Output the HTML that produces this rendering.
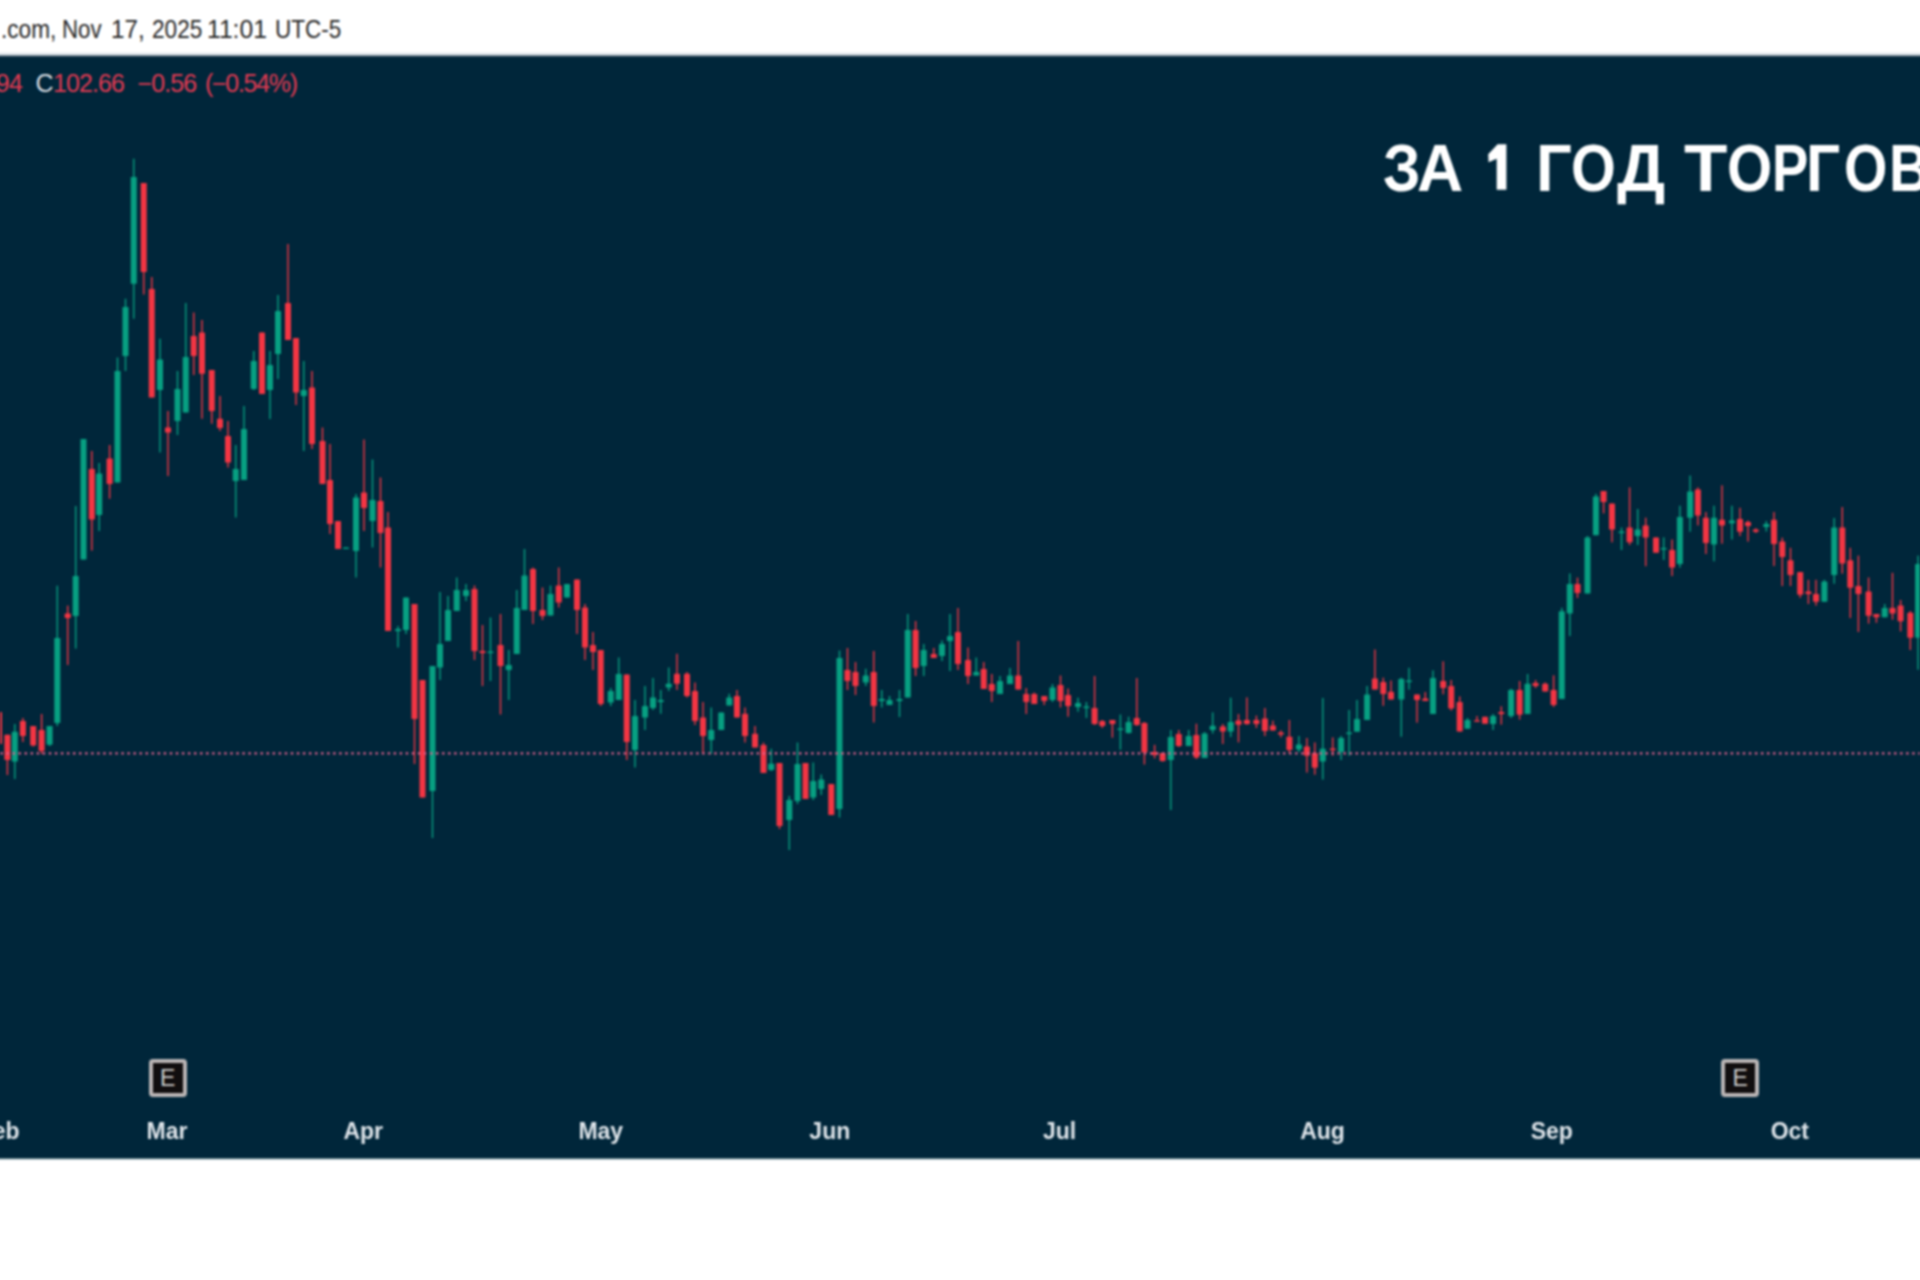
<!DOCTYPE html>
<html><head><meta charset="utf-8"><style>
html,body{margin:0;padding:0;width:1920px;height:1280px;overflow:hidden;background:#fff;}
body{position:relative;font-family:"Liberation Sans",sans-serif;}
#wrap{position:absolute;left:-20px;top:-20px;width:1960px;height:1320px;background:#fff;filter:blur(0.8px);}
#inner{position:absolute;left:20px;top:20px;width:1920px;height:1280px;}
.hd{position:absolute;top:17.3px;font-size:25px;line-height:25px;color:#262626;white-space:nowrap;transform-origin:0 0}
#chart{position:absolute;left:-20px;top:57px;width:1960px;height:1101px;background:#00263a;}
#ln1{position:absolute;left:-20px;top:52px;width:1960px;height:2px;background:#eef2f4}
#ln2{position:absolute;left:-20px;top:54px;width:1960px;height:1px;background:#d4dade}
#ln3{position:absolute;left:-20px;top:55px;width:1960px;height:1px;background:#8797a4}
#ln3b{position:absolute;left:-20px;top:56px;width:1960px;height:1px;background:#2c4658}
#ln4{position:absolute;left:-20px;top:1158px;width:1960px;height:1px;background:#5a7a82}
#ln5{position:absolute;left:-20px;top:1159px;width:1960px;height:1px;background:#c8d4da}
svg{position:absolute;left:0;top:0}
.oh{position:absolute;top:68px;font-size:25px;color:#e23a52;white-space:nowrap;line-height:30px}
.tt{position:absolute;top:133.7px;font-size:67px;font-weight:bold;color:#fff;white-space:nowrap;line-height:67px;transform-origin:0 0}
.ml{position:absolute;top:1117.6px;font-size:23px;color:#dfe5ea;white-space:nowrap;font-weight:bold}
.em{position:absolute;top:1059px;width:30px;height:30px;border:4px solid #bab5b5;border-radius:4px;background:#110e0f;}
.em span{position:absolute;left:0;top:2px;width:30px;text-align:center;font-size:23px;color:#cfcfcf;line-height:26px}
</style></head><body>
<div id="wrap"><div id="inner">
<div class="hd" style="left:0.99px;transform:scaleX(0.905)">.com,</div><div class="hd" style="left:62.01px;transform:scaleX(0.893)">Nov</div><div class="hd" style="left:110.66px;transform:scaleX(0.968)">17,</div><div class="hd" style="left:152.00px;transform:scaleX(0.904)">2025</div><div class="hd" style="left:207.23px;transform:scaleX(0.986)">11:01</div><div class="hd" style="left:274.90px;transform:scaleX(0.899)">UTC-5</div>
<div id="ln1"></div><div id="chart"></div><div id="ln2"></div><div id="ln3"></div><div id="ln3b"></div><div id="ln4"></div><div id="ln5"></div>
<svg width="1920" height="1280" viewBox="0 0 1920 1280">

<polygon fill="#fff" points="1497.6,144.3 1506.4,144.3 1506.4,189.8 1496.7,189.8 1496.7,158.8 1488.6,162.3 1488.2,154.2"/>
<g fill="#07a082"><rect x="14.10" y="724.00" width="1.40" height="55.00"/><rect x="11.80" y="731.80" width="6.00" height="29.70" rx="0.6"/><rect x="48.90" y="726.00" width="1.40" height="20.00"/><rect x="46.60" y="726.00" width="6.00" height="18.70" rx="0.6"/><rect x="56.60" y="585.70" width="1.40" height="140.30"/><rect x="54.30" y="638.00" width="6.00" height="85.00" rx="0.6"/><rect x="75.00" y="506.00" width="1.40" height="142.60"/><rect x="72.70" y="576.00" width="6.00" height="40.00" rx="0.6"/><rect x="82.80" y="439.00" width="1.40" height="120.50"/><rect x="80.50" y="439.00" width="6.00" height="120.50" rx="0.6"/><rect x="98.50" y="463.00" width="1.40" height="68.00"/><rect x="96.20" y="473.40" width="6.00" height="41.60" rx="0.6"/><rect x="116.80" y="357.50" width="1.40" height="125.00"/><rect x="114.50" y="371.00" width="6.00" height="111.50" rx="0.6"/><rect x="124.80" y="298.75" width="1.40" height="72.25"/><rect x="122.50" y="307.00" width="6.00" height="49.00" rx="0.6"/><rect x="133.05" y="158.75" width="1.40" height="160.00"/><rect x="130.75" y="177.00" width="6.00" height="106.75" rx="0.6"/><rect x="159.30" y="338.75" width="1.40" height="113.75"/><rect x="157.00" y="359.50" width="6.00" height="30.50" rx="0.6"/><rect x="176.80" y="371.00" width="1.40" height="64.00"/><rect x="174.50" y="389.00" width="6.00" height="32.00" rx="0.6"/><rect x="185.05" y="303.00" width="1.40" height="109.50"/><rect x="182.75" y="357.00" width="6.00" height="55.50" rx="0.6"/><rect x="235.05" y="445.00" width="1.40" height="72.50"/><rect x="232.75" y="469.00" width="6.00" height="12.00" rx="0.6"/><rect x="243.30" y="406.00" width="1.40" height="74.00"/><rect x="241.00" y="429.00" width="6.00" height="51.00" rx="0.6"/><rect x="253.05" y="351.00" width="1.40" height="39.00"/><rect x="250.75" y="361.00" width="6.00" height="28.00" rx="0.6"/><rect x="269.30" y="351.00" width="1.40" height="68.00"/><rect x="267.00" y="365.00" width="6.00" height="25.00" rx="0.6"/><rect x="277.30" y="295.00" width="1.40" height="84.00"/><rect x="275.00" y="311.00" width="6.00" height="43.00" rx="0.6"/><rect x="303.05" y="361.00" width="1.40" height="90.00"/><rect x="300.75" y="390.00" width="6.00" height="6.00" rx="0.6"/><rect x="345.30" y="547.50" width="1.40" height="1.50"/><rect x="343.00" y="547.45" width="6.00" height="1.60" rx="0.6"/><rect x="355.30" y="494.00" width="1.40" height="83.50"/><rect x="353.00" y="497.50" width="6.00" height="53.50" rx="0.6"/><rect x="371.80" y="459.50" width="1.40" height="88.00"/><rect x="369.50" y="500.00" width="6.00" height="21.00" rx="0.6"/><rect x="397.30" y="626.00" width="1.40" height="21.50"/><rect x="395.00" y="629.00" width="6.00" height="2.00" rx="0.6"/><rect x="405.30" y="597.50" width="1.40" height="36.50"/><rect x="403.00" y="597.50" width="6.00" height="32.50" rx="0.6"/><rect x="431.80" y="666.00" width="1.40" height="172.00"/><rect x="429.50" y="666.00" width="6.00" height="125.00" rx="0.6"/><rect x="439.30" y="592.00" width="1.40" height="88.00"/><rect x="437.00" y="644.00" width="6.00" height="23.50" rx="0.6"/><rect x="447.30" y="596.00" width="1.40" height="45.00"/><rect x="445.00" y="610.00" width="6.00" height="31.00" rx="0.6"/><rect x="456.05" y="577.50" width="1.40" height="33.50"/><rect x="453.75" y="590.00" width="6.00" height="21.00" rx="0.6"/><rect x="465.30" y="584.00" width="1.40" height="17.00"/><rect x="463.00" y="590.00" width="6.00" height="6.00" rx="0.6"/><rect x="489.80" y="617.50" width="1.40" height="63.50"/><rect x="487.50" y="651.45" width="6.00" height="1.60" rx="0.6"/><rect x="508.05" y="650.00" width="1.40" height="50.00"/><rect x="505.75" y="665.00" width="6.00" height="5.00" rx="0.6"/><rect x="516.05" y="590.00" width="1.40" height="64.00"/><rect x="513.75" y="608.00" width="6.00" height="46.00" rx="0.6"/><rect x="523.80" y="549.00" width="1.40" height="61.00"/><rect x="521.50" y="575.50" width="6.00" height="34.50" rx="0.6"/><rect x="549.80" y="585.50" width="1.40" height="30.00"/><rect x="547.50" y="594.00" width="6.00" height="21.50" rx="0.6"/><rect x="566.30" y="584.00" width="1.40" height="13.50"/><rect x="564.00" y="584.00" width="6.00" height="13.50" rx="0.6"/><rect x="610.05" y="688.00" width="1.40" height="18.00"/><rect x="607.75" y="691.00" width="6.00" height="11.50" rx="0.6"/><rect x="618.05" y="657.50" width="1.40" height="42.50"/><rect x="615.75" y="674.00" width="6.00" height="26.00" rx="0.6"/><rect x="634.30" y="700.00" width="1.40" height="67.50"/><rect x="632.00" y="716.00" width="6.00" height="34.00" rx="0.6"/><rect x="644.30" y="686.00" width="1.40" height="44.00"/><rect x="642.00" y="706.00" width="6.00" height="11.50" rx="0.6"/><rect x="652.30" y="678.00" width="1.40" height="32.00"/><rect x="650.00" y="697.50" width="6.00" height="10.50" rx="0.6"/><rect x="660.05" y="690.00" width="1.40" height="23.75"/><rect x="657.75" y="700.00" width="6.00" height="2.00" rx="0.6"/><rect x="668.05" y="667.50" width="1.40" height="23.50"/><rect x="665.75" y="683.75" width="6.00" height="3.75" rx="0.6"/><rect x="710.55" y="707.50" width="1.40" height="46.25"/><rect x="708.25" y="730.00" width="6.00" height="10.00" rx="0.6"/><rect x="720.55" y="712.50" width="1.40" height="17.50"/><rect x="718.25" y="712.50" width="6.00" height="17.50" rx="0.6"/><rect x="728.55" y="693.75" width="1.40" height="11.75"/><rect x="726.25" y="697.50" width="6.00" height="8.00" rx="0.6"/><rect x="770.55" y="748.75" width="1.40" height="22.25"/><rect x="768.25" y="763.75" width="6.00" height="6.25" rx="0.6"/><rect x="788.55" y="796.00" width="1.40" height="54.00"/><rect x="786.25" y="800.00" width="6.00" height="20.00" rx="0.6"/><rect x="796.80" y="742.50" width="1.40" height="61.50"/><rect x="794.50" y="764.00" width="6.00" height="37.00" rx="0.6"/><rect x="812.55" y="762.50" width="1.40" height="37.50"/><rect x="810.25" y="781.00" width="6.00" height="16.50" rx="0.6"/><rect x="820.55" y="774.50" width="1.40" height="20.50"/><rect x="818.25" y="779.50" width="6.00" height="9.50" rx="0.6"/><rect x="838.80" y="650.50" width="1.40" height="167.00"/><rect x="836.50" y="658.00" width="6.00" height="151.00" rx="0.6"/><rect x="865.05" y="668.75" width="1.40" height="17.25"/><rect x="862.75" y="675.50" width="6.00" height="7.00" rx="0.6"/><rect x="881.05" y="690.00" width="1.40" height="17.50"/><rect x="878.75" y="699.00" width="6.00" height="2.00" rx="0.6"/><rect x="888.80" y="696.00" width="1.40" height="9.00"/><rect x="886.50" y="700.00" width="6.00" height="5.00" rx="0.6"/><rect x="898.80" y="690.00" width="1.40" height="27.00"/><rect x="896.50" y="699.00" width="6.00" height="2.00" rx="0.6"/><rect x="907.05" y="614.00" width="1.40" height="83.50"/><rect x="904.75" y="630.00" width="6.00" height="67.50" rx="0.6"/><rect x="923.05" y="644.00" width="1.40" height="32.00"/><rect x="920.75" y="650.00" width="6.00" height="16.00" rx="0.6"/><rect x="941.30" y="640.50" width="1.40" height="20.50"/><rect x="939.00" y="644.00" width="6.00" height="12.00" rx="0.6"/><rect x="949.30" y="614.00" width="1.40" height="57.00"/><rect x="947.00" y="636.00" width="6.00" height="5.00" rx="0.6"/><rect x="975.55" y="657.50" width="1.40" height="18.00"/><rect x="973.25" y="672.00" width="6.00" height="3.50" rx="0.6"/><rect x="999.30" y="676.00" width="1.40" height="18.00"/><rect x="997.00" y="681.00" width="6.00" height="13.00" rx="0.6"/><rect x="1009.30" y="668.00" width="1.40" height="16.00"/><rect x="1007.00" y="675.50" width="6.00" height="8.50" rx="0.6"/><rect x="1051.80" y="684.00" width="1.40" height="18.00"/><rect x="1049.50" y="687.50" width="6.00" height="12.50" rx="0.6"/><rect x="1077.30" y="697.70" width="1.40" height="14.00"/><rect x="1075.00" y="703.00" width="6.00" height="4.00" rx="0.6"/><rect x="1085.70" y="702.00" width="1.40" height="16.00"/><rect x="1083.40" y="706.45" width="6.00" height="1.60" rx="0.6"/><rect x="1119.70" y="714.50" width="1.40" height="35.20"/><rect x="1117.40" y="728.45" width="6.00" height="1.60" rx="0.6"/><rect x="1127.90" y="716.70" width="1.40" height="16.80"/><rect x="1125.60" y="722.00" width="6.00" height="11.00" rx="0.6"/><rect x="1170.10" y="730.00" width="1.40" height="80.00"/><rect x="1167.80" y="737.00" width="6.00" height="23.00" rx="0.6"/><rect x="1188.00" y="730.00" width="1.40" height="16.00"/><rect x="1185.70" y="736.00" width="6.00" height="10.00" rx="0.6"/><rect x="1203.90" y="732.00" width="1.40" height="26.00"/><rect x="1201.60" y="733.50" width="6.00" height="24.50" rx="0.6"/><rect x="1212.00" y="712.40" width="1.40" height="21.10"/><rect x="1209.70" y="725.80" width="6.00" height="4.20" rx="0.6"/><rect x="1230.00" y="697.70" width="1.40" height="39.30"/><rect x="1227.70" y="722.00" width="6.00" height="9.40" rx="0.6"/><rect x="1298.20" y="736.00" width="1.40" height="16.00"/><rect x="1295.90" y="744.50" width="6.00" height="4.90" rx="0.6"/><rect x="1322.10" y="698.00" width="1.40" height="81.60"/><rect x="1319.80" y="748.70" width="6.00" height="12.70" rx="0.6"/><rect x="1340.40" y="736.00" width="1.40" height="24.00"/><rect x="1338.10" y="738.00" width="6.00" height="14.00" rx="0.6"/><rect x="1348.40" y="710.00" width="1.40" height="45.70"/><rect x="1346.10" y="732.45" width="6.00" height="1.60" rx="0.6"/><rect x="1356.30" y="700.00" width="1.40" height="31.80"/><rect x="1354.00" y="719.00" width="6.00" height="12.80" rx="0.6"/><rect x="1366.40" y="686.00" width="1.40" height="34.00"/><rect x="1364.10" y="694.50" width="6.00" height="25.50" rx="0.6"/><rect x="1400.60" y="677.70" width="1.40" height="59.00"/><rect x="1398.30" y="679.00" width="6.00" height="20.50" rx="0.6"/><rect x="1408.30" y="667.80" width="1.40" height="21.80"/><rect x="1406.00" y="680.45" width="6.00" height="1.60" rx="0.6"/><rect x="1432.30" y="670.40" width="1.40" height="43.60"/><rect x="1430.00" y="678.00" width="6.00" height="36.00" rx="0.6"/><rect x="1466.80" y="718.00" width="1.40" height="10.80"/><rect x="1464.50" y="720.00" width="6.00" height="8.80" rx="0.6"/><rect x="1492.40" y="714.00" width="1.40" height="16.00"/><rect x="1490.10" y="716.00" width="6.00" height="8.00" rx="0.6"/><rect x="1510.40" y="688.70" width="1.40" height="29.30"/><rect x="1508.10" y="690.00" width="6.00" height="26.00" rx="0.6"/><rect x="1526.90" y="674.00" width="1.40" height="40.00"/><rect x="1524.60" y="683.80" width="6.00" height="30.20" rx="0.6"/><rect x="1561.10" y="607.80" width="1.40" height="91.20"/><rect x="1558.80" y="611.30" width="6.00" height="87.70" rx="0.6"/><rect x="1569.10" y="573.40" width="1.40" height="62.60"/><rect x="1566.80" y="584.00" width="6.00" height="29.40" rx="0.6"/><rect x="1586.80" y="536.00" width="1.40" height="57.60"/><rect x="1584.50" y="537.40" width="6.00" height="56.20" rx="0.6"/><rect x="1595.20" y="493.80" width="1.40" height="41.40"/><rect x="1592.90" y="496.60" width="6.00" height="38.60" rx="0.6"/><rect x="1620.80" y="527.50" width="1.40" height="22.50"/><rect x="1618.50" y="531.45" width="6.00" height="1.60" rx="0.6"/><rect x="1637.00" y="509.00" width="1.40" height="36.00"/><rect x="1634.70" y="529.60" width="6.00" height="6.40" rx="0.6"/><rect x="1663.00" y="537.40" width="1.40" height="22.60"/><rect x="1660.70" y="547.95" width="6.00" height="1.60" rx="0.6"/><rect x="1679.20" y="505.70" width="1.40" height="61.90"/><rect x="1676.90" y="517.00" width="6.00" height="47.00" rx="0.6"/><rect x="1689.40" y="475.50" width="1.40" height="56.20"/><rect x="1687.10" y="491.60" width="6.00" height="26.10" rx="0.6"/><rect x="1713.30" y="505.70" width="1.40" height="55.60"/><rect x="1711.00" y="517.70" width="6.00" height="26.70" rx="0.6"/><rect x="1731.20" y="505.70" width="1.40" height="33.80"/><rect x="1728.90" y="520.50" width="6.00" height="2.80" rx="0.6"/><rect x="1765.60" y="521.00" width="1.40" height="10.50"/><rect x="1763.30" y="524.00" width="6.00" height="3.00" rx="0.6"/><rect x="1823.70" y="579.80" width="1.40" height="21.90"/><rect x="1821.40" y="581.40" width="6.00" height="20.30" rx="0.6"/><rect x="1833.50" y="518.00" width="1.40" height="65.75"/><rect x="1831.20" y="527.50" width="6.00" height="47.50" rx="0.6"/><rect x="1884.00" y="604.00" width="1.40" height="13.30"/><rect x="1881.70" y="608.00" width="6.00" height="9.30" rx="0.6"/><rect x="1917.40" y="555.60" width="1.40" height="114.10"/><rect x="1915.10" y="564.00" width="6.00" height="73.70" rx="0.6"/></g><g fill="#f33543"><rect x="-1.70" y="708.75" width="1.40" height="35.15"/><rect x="-4.00" y="711.90" width="6.00" height="32.00" rx="0.6"/><rect x="6.70" y="734.70" width="1.40" height="40.30"/><rect x="4.40" y="734.70" width="6.00" height="25.30" rx="0.6"/><rect x="22.20" y="718.00" width="1.40" height="24.00"/><rect x="19.90" y="721.00" width="6.00" height="15.00" rx="0.6"/><rect x="32.50" y="726.00" width="1.40" height="20.50"/><rect x="30.20" y="726.00" width="6.00" height="19.50" rx="0.6"/><rect x="40.90" y="714.00" width="1.40" height="40.00"/><rect x="38.60" y="730.00" width="6.00" height="21.00" rx="0.6"/><rect x="67.00" y="605.60" width="1.40" height="59.40"/><rect x="64.70" y="613.60" width="6.00" height="4.40" rx="0.6"/><rect x="91.10" y="451.00" width="1.40" height="99.60"/><rect x="88.80" y="469.00" width="6.00" height="50.50" rx="0.6"/><rect x="108.90" y="445.00" width="1.40" height="53.70"/><rect x="106.60" y="458.60" width="6.00" height="25.40" rx="0.6"/><rect x="143.05" y="183.00" width="1.40" height="111.50"/><rect x="140.75" y="183.00" width="6.00" height="89.00" rx="0.6"/><rect x="151.05" y="277.00" width="1.40" height="120.50"/><rect x="148.75" y="289.00" width="6.00" height="108.50" rx="0.6"/><rect x="167.30" y="411.00" width="1.40" height="65.00"/><rect x="165.00" y="427.50" width="6.00" height="5.00" rx="0.6"/><rect x="193.05" y="312.50" width="1.40" height="62.50"/><rect x="190.75" y="336.00" width="6.00" height="20.00" rx="0.6"/><rect x="201.30" y="320.00" width="1.40" height="98.75"/><rect x="199.00" y="332.50" width="6.00" height="41.25" rx="0.6"/><rect x="211.05" y="370.00" width="1.40" height="53.75"/><rect x="208.75" y="370.00" width="6.00" height="41.00" rx="0.6"/><rect x="219.30" y="396.00" width="1.40" height="35.00"/><rect x="217.00" y="418.75" width="6.00" height="9.25" rx="0.6"/><rect x="227.30" y="421.00" width="1.40" height="46.50"/><rect x="225.00" y="436.00" width="6.00" height="26.50" rx="0.6"/><rect x="261.30" y="332.50" width="1.40" height="61.50"/><rect x="259.00" y="332.50" width="6.00" height="61.50" rx="0.6"/><rect x="287.30" y="244.00" width="1.40" height="96.00"/><rect x="285.00" y="303.00" width="6.00" height="37.00" rx="0.6"/><rect x="295.30" y="338.00" width="1.40" height="67.00"/><rect x="293.00" y="338.00" width="6.00" height="54.50" rx="0.6"/><rect x="311.30" y="371.00" width="1.40" height="78.00"/><rect x="309.00" y="387.50" width="6.00" height="56.50" rx="0.6"/><rect x="321.80" y="427.50" width="1.40" height="56.50"/><rect x="319.50" y="441.00" width="6.00" height="43.00" rx="0.6"/><rect x="329.30" y="444.00" width="1.40" height="90.00"/><rect x="327.00" y="480.00" width="6.00" height="44.00" rx="0.6"/><rect x="337.30" y="521.00" width="1.40" height="28.00"/><rect x="335.00" y="521.00" width="6.00" height="28.00" rx="0.6"/><rect x="363.30" y="439.50" width="1.40" height="91.50"/><rect x="361.00" y="492.50" width="6.00" height="15.50" rx="0.6"/><rect x="379.80" y="477.50" width="1.40" height="90.00"/><rect x="377.50" y="501.00" width="6.00" height="32.00" rx="0.6"/><rect x="387.30" y="512.00" width="1.40" height="119.00"/><rect x="385.00" y="527.50" width="6.00" height="103.50" rx="0.6"/><rect x="413.80" y="604.00" width="1.40" height="160.00"/><rect x="411.50" y="604.00" width="6.00" height="115.00" rx="0.6"/><rect x="421.80" y="680.00" width="1.40" height="117.50"/><rect x="419.50" y="680.00" width="6.00" height="117.50" rx="0.6"/><rect x="473.80" y="585.50" width="1.40" height="74.50"/><rect x="471.50" y="589.00" width="6.00" height="62.00" rx="0.6"/><rect x="481.80" y="625.00" width="1.40" height="61.00"/><rect x="479.50" y="651.00" width="6.00" height="2.00" rx="0.6"/><rect x="499.80" y="614.00" width="1.40" height="100.50"/><rect x="497.50" y="645.00" width="6.00" height="21.00" rx="0.6"/><rect x="532.30" y="567.50" width="1.40" height="56.50"/><rect x="530.00" y="569.00" width="6.00" height="42.00" rx="0.6"/><rect x="541.80" y="587.50" width="1.40" height="32.50"/><rect x="539.50" y="610.00" width="6.00" height="6.00" rx="0.6"/><rect x="558.05" y="567.50" width="1.40" height="40.00"/><rect x="555.75" y="585.50" width="6.00" height="17.00" rx="0.6"/><rect x="576.30" y="579.50" width="1.40" height="54.50"/><rect x="574.00" y="579.50" width="6.00" height="30.50" rx="0.6"/><rect x="584.30" y="604.00" width="1.40" height="56.00"/><rect x="582.00" y="607.50" width="6.00" height="40.00" rx="0.6"/><rect x="592.30" y="632.00" width="1.40" height="38.00"/><rect x="590.00" y="645.00" width="6.00" height="7.00" rx="0.6"/><rect x="600.05" y="650.00" width="1.40" height="56.00"/><rect x="597.75" y="650.00" width="6.00" height="54.00" rx="0.6"/><rect x="626.05" y="674.50" width="1.40" height="85.50"/><rect x="623.75" y="674.50" width="6.00" height="67.50" rx="0.6"/><rect x="676.30" y="653.75" width="1.40" height="36.25"/><rect x="674.00" y="673.75" width="6.00" height="10.00" rx="0.6"/><rect x="686.30" y="672.00" width="1.40" height="25.50"/><rect x="684.00" y="673.75" width="6.00" height="22.25" rx="0.6"/><rect x="694.30" y="682.50" width="1.40" height="42.50"/><rect x="692.00" y="691.00" width="6.00" height="30.00" rx="0.6"/><rect x="702.30" y="702.00" width="1.40" height="51.75"/><rect x="700.00" y="717.50" width="6.00" height="18.50" rx="0.6"/><rect x="736.30" y="690.00" width="1.40" height="27.50"/><rect x="734.00" y="696.00" width="6.00" height="21.50" rx="0.6"/><rect x="744.30" y="707.50" width="1.40" height="35.00"/><rect x="742.00" y="713.75" width="6.00" height="22.25" rx="0.6"/><rect x="754.30" y="726.00" width="1.40" height="21.50"/><rect x="752.00" y="733.75" width="6.00" height="13.75" rx="0.6"/><rect x="762.80" y="742.50" width="1.40" height="30.50"/><rect x="760.50" y="745.00" width="6.00" height="28.00" rx="0.6"/><rect x="778.80" y="763.00" width="1.40" height="66.00"/><rect x="776.50" y="763.00" width="6.00" height="63.00" rx="0.6"/><rect x="804.80" y="763.00" width="1.40" height="36.00"/><rect x="802.50" y="763.00" width="6.00" height="36.00" rx="0.6"/><rect x="830.55" y="784.00" width="1.40" height="31.00"/><rect x="828.25" y="784.00" width="6.00" height="31.00" rx="0.6"/><rect x="846.80" y="648.00" width="1.40" height="42.00"/><rect x="844.50" y="670.00" width="6.00" height="11.00" rx="0.6"/><rect x="854.80" y="662.00" width="1.40" height="33.00"/><rect x="852.50" y="672.00" width="6.00" height="14.00" rx="0.6"/><rect x="873.05" y="651.00" width="1.40" height="71.50"/><rect x="870.75" y="672.00" width="6.00" height="34.00" rx="0.6"/><rect x="914.90" y="621.00" width="1.40" height="55.00"/><rect x="912.60" y="630.00" width="6.00" height="38.00" rx="0.6"/><rect x="933.05" y="648.00" width="1.40" height="10.00"/><rect x="930.75" y="654.00" width="6.00" height="4.00" rx="0.6"/><rect x="957.30" y="608.00" width="1.40" height="62.00"/><rect x="955.00" y="632.00" width="6.00" height="32.00" rx="0.6"/><rect x="967.30" y="647.50" width="1.40" height="36.50"/><rect x="965.00" y="660.00" width="6.00" height="16.00" rx="0.6"/><rect x="983.05" y="662.00" width="1.40" height="27.00"/><rect x="980.75" y="669.00" width="6.00" height="20.00" rx="0.6"/><rect x="991.05" y="674.00" width="1.40" height="28.00"/><rect x="988.75" y="684.00" width="6.00" height="7.00" rx="0.6"/><rect x="1017.55" y="641.00" width="1.40" height="48.50"/><rect x="1015.25" y="675.50" width="6.00" height="14.00" rx="0.6"/><rect x="1025.55" y="688.00" width="1.40" height="26.00"/><rect x="1023.25" y="694.00" width="6.00" height="8.00" rx="0.6"/><rect x="1033.55" y="692.50" width="1.40" height="11.50"/><rect x="1031.25" y="694.00" width="6.00" height="10.00" rx="0.6"/><rect x="1043.55" y="696.00" width="1.40" height="9.00"/><rect x="1041.25" y="696.00" width="6.00" height="5.00" rx="0.6"/><rect x="1059.80" y="675.50" width="1.40" height="32.00"/><rect x="1057.50" y="685.00" width="6.00" height="16.00" rx="0.6"/><rect x="1067.40" y="688.50" width="1.40" height="28.20"/><rect x="1065.10" y="695.00" width="6.00" height="11.00" rx="0.6"/><rect x="1093.90" y="676.00" width="1.40" height="49.00"/><rect x="1091.60" y="708.00" width="6.00" height="16.00" rx="0.6"/><rect x="1101.60" y="720.00" width="1.40" height="8.00"/><rect x="1099.30" y="721.00" width="6.00" height="5.00" rx="0.6"/><rect x="1111.70" y="720.00" width="1.40" height="17.70"/><rect x="1109.40" y="720.00" width="6.00" height="4.00" rx="0.6"/><rect x="1136.10" y="678.00" width="1.40" height="47.80"/><rect x="1133.80" y="718.00" width="6.00" height="7.00" rx="0.6"/><rect x="1143.70" y="722.00" width="1.40" height="42.50"/><rect x="1141.40" y="723.00" width="6.00" height="29.50" rx="0.6"/><rect x="1153.90" y="744.80" width="1.40" height="13.60"/><rect x="1151.60" y="752.00" width="6.00" height="3.00" rx="0.6"/><rect x="1161.90" y="753.00" width="1.40" height="8.70"/><rect x="1159.60" y="753.00" width="6.00" height="8.00" rx="0.6"/><rect x="1178.10" y="730.00" width="1.40" height="17.00"/><rect x="1175.80" y="734.00" width="6.00" height="12.00" rx="0.6"/><rect x="1195.70" y="723.70" width="1.40" height="35.30"/><rect x="1193.40" y="735.00" width="6.00" height="22.40" rx="0.6"/><rect x="1222.10" y="724.00" width="1.40" height="20.00"/><rect x="1219.80" y="726.50" width="6.00" height="4.90" rx="0.6"/><rect x="1237.80" y="714.00" width="1.40" height="28.40"/><rect x="1235.50" y="720.60" width="6.00" height="4.20" rx="0.6"/><rect x="1246.20" y="697.40" width="1.40" height="27.40"/><rect x="1243.90" y="720.00" width="6.00" height="4.00" rx="0.6"/><rect x="1255.70" y="715.60" width="1.40" height="12.40"/><rect x="1253.40" y="720.00" width="6.00" height="4.00" rx="0.6"/><rect x="1264.20" y="708.00" width="1.40" height="28.00"/><rect x="1261.90" y="718.50" width="6.00" height="12.50" rx="0.6"/><rect x="1272.20" y="720.60" width="1.40" height="9.80"/><rect x="1269.90" y="725.50" width="6.00" height="4.90" rx="0.6"/><rect x="1280.20" y="730.40" width="1.40" height="7.00"/><rect x="1277.90" y="732.50" width="6.00" height="2.10" rx="0.6"/><rect x="1288.70" y="720.00" width="1.40" height="33.60"/><rect x="1286.40" y="736.70" width="6.00" height="13.30" rx="0.6"/><rect x="1306.20" y="738.00" width="1.40" height="34.60"/><rect x="1303.90" y="746.60" width="6.00" height="9.10" rx="0.6"/><rect x="1314.10" y="742.40" width="1.40" height="32.30"/><rect x="1311.80" y="753.00" width="6.00" height="14.70" rx="0.6"/><rect x="1332.00" y="737.40" width="1.40" height="18.30"/><rect x="1329.70" y="748.55" width="6.00" height="1.60" rx="0.6"/><rect x="1374.20" y="649.50" width="1.40" height="40.10"/><rect x="1371.90" y="678.40" width="6.00" height="11.20" rx="0.6"/><rect x="1382.60" y="677.70" width="1.40" height="28.10"/><rect x="1380.30" y="682.00" width="6.00" height="12.00" rx="0.6"/><rect x="1390.30" y="680.50" width="1.40" height="19.00"/><rect x="1388.00" y="691.70" width="6.00" height="7.80" rx="0.6"/><rect x="1416.30" y="694.50" width="1.40" height="28.20"/><rect x="1414.00" y="694.50" width="6.00" height="5.50" rx="0.6"/><rect x="1424.60" y="692.00" width="1.40" height="9.00"/><rect x="1422.30" y="698.50" width="6.00" height="2.50" rx="0.6"/><rect x="1442.50" y="661.30" width="1.40" height="33.00"/><rect x="1440.20" y="681.00" width="6.00" height="7.00" rx="0.6"/><rect x="1450.50" y="680.00" width="1.40" height="30.50"/><rect x="1448.20" y="686.00" width="6.00" height="22.40" rx="0.6"/><rect x="1459.00" y="696.40" width="1.40" height="35.20"/><rect x="1456.70" y="702.00" width="6.00" height="29.60" rx="0.6"/><rect x="1476.30" y="716.00" width="1.40" height="5.70"/><rect x="1474.00" y="720.20" width="6.00" height="1.60" rx="0.6"/><rect x="1484.30" y="716.80" width="1.40" height="7.00"/><rect x="1482.00" y="716.80" width="6.00" height="7.00" rx="0.6"/><rect x="1500.60" y="706.30" width="1.40" height="18.30"/><rect x="1498.30" y="712.00" width="6.00" height="2.00" rx="0.6"/><rect x="1518.90" y="681.00" width="1.40" height="38.60"/><rect x="1516.60" y="690.00" width="6.00" height="24.70" rx="0.6"/><rect x="1534.90" y="680.00" width="1.40" height="8.00"/><rect x="1532.60" y="683.00" width="6.00" height="3.00" rx="0.6"/><rect x="1544.50" y="682.40" width="1.40" height="9.10"/><rect x="1542.20" y="683.80" width="6.00" height="7.70" rx="0.6"/><rect x="1552.90" y="675.30" width="1.40" height="31.70"/><rect x="1550.60" y="690.00" width="6.00" height="15.00" rx="0.6"/><rect x="1576.80" y="577.60" width="1.40" height="20.40"/><rect x="1574.50" y="584.00" width="6.00" height="9.00" rx="0.6"/><rect x="1602.90" y="491.00" width="1.40" height="22.40"/><rect x="1600.60" y="491.00" width="6.00" height="11.00" rx="0.6"/><rect x="1611.30" y="503.60" width="1.40" height="38.70"/><rect x="1609.00" y="503.60" width="6.00" height="26.00" rx="0.6"/><rect x="1628.90" y="487.40" width="1.40" height="57.60"/><rect x="1626.60" y="527.50" width="6.00" height="14.80" rx="0.6"/><rect x="1645.00" y="517.70" width="1.40" height="48.50"/><rect x="1642.70" y="525.40" width="6.00" height="12.00" rx="0.6"/><rect x="1655.30" y="537.40" width="1.40" height="15.40"/><rect x="1653.00" y="537.40" width="6.00" height="15.40" rx="0.6"/><rect x="1671.40" y="539.50" width="1.40" height="36.50"/><rect x="1669.10" y="550.00" width="6.00" height="17.60" rx="0.6"/><rect x="1697.20" y="487.40" width="1.40" height="38.00"/><rect x="1694.90" y="489.50" width="6.00" height="26.10" rx="0.6"/><rect x="1705.20" y="512.00" width="1.40" height="42.00"/><rect x="1702.90" y="517.70" width="6.00" height="25.30" rx="0.6"/><rect x="1721.30" y="485.30" width="1.40" height="58.40"/><rect x="1719.00" y="519.80" width="6.00" height="5.60" rx="0.6"/><rect x="1739.30" y="507.80" width="1.40" height="28.20"/><rect x="1737.00" y="519.00" width="6.00" height="12.70" rx="0.6"/><rect x="1747.30" y="520.50" width="1.40" height="21.10"/><rect x="1745.00" y="522.00" width="6.00" height="4.00" rx="0.6"/><rect x="1755.10" y="528.20" width="1.40" height="4.80"/><rect x="1752.80" y="529.60" width="6.00" height="2.10" rx="0.6"/><rect x="1773.30" y="512.00" width="1.40" height="54.00"/><rect x="1771.00" y="519.70" width="6.00" height="24.30" rx="0.6"/><rect x="1781.60" y="537.70" width="1.40" height="48.30"/><rect x="1779.30" y="541.60" width="6.00" height="15.40" rx="0.6"/><rect x="1789.80" y="547.80" width="1.40" height="38.20"/><rect x="1787.50" y="560.30" width="6.00" height="14.70" rx="0.6"/><rect x="1799.50" y="572.00" width="1.40" height="25.80"/><rect x="1797.20" y="572.00" width="6.00" height="22.70" rx="0.6"/><rect x="1807.70" y="579.80" width="1.40" height="24.20"/><rect x="1805.40" y="591.60" width="6.00" height="2.40" rx="0.6"/><rect x="1815.30" y="579.80" width="1.40" height="25.80"/><rect x="1813.00" y="594.00" width="6.00" height="7.70" rx="0.6"/><rect x="1841.60" y="507.00" width="1.40" height="66.60"/><rect x="1839.30" y="527.50" width="6.00" height="35.90" rx="0.6"/><rect x="1849.60" y="547.80" width="1.40" height="70.20"/><rect x="1847.30" y="560.30" width="6.00" height="27.40" rx="0.6"/><rect x="1857.70" y="555.60" width="1.40" height="76.40"/><rect x="1855.40" y="586.00" width="6.00" height="8.00" rx="0.6"/><rect x="1867.90" y="577.50" width="1.40" height="46.10"/><rect x="1865.60" y="591.60" width="6.00" height="24.20" rx="0.6"/><rect x="1875.70" y="614.00" width="1.40" height="8.80"/><rect x="1873.40" y="614.00" width="6.00" height="3.30" rx="0.6"/><rect x="1891.80" y="572.80" width="1.40" height="46.90"/><rect x="1889.50" y="608.00" width="6.00" height="5.40" rx="0.6"/><rect x="1899.90" y="600.00" width="1.40" height="31.40"/><rect x="1897.60" y="605.60" width="6.00" height="15.70" rx="0.6"/><rect x="1909.60" y="611.00" width="1.40" height="39.00"/><rect x="1907.30" y="612.70" width="6.00" height="25.00" rx="0.6"/></g>
<line x1="0" y1="753.3" x2="1920" y2="753.3" stroke="#e0628e" stroke-width="2.2" stroke-dasharray="2.4 3.65" stroke-dashoffset="-0.4"/>
</svg>
<div class="oh" style="right:1898px;letter-spacing:-0.8px">94</div>
<div class="oh" style="left:35.5px;color:#d8dde2">C</div>
<div class="oh" style="left:53px;letter-spacing:-0.9px">102.66</div>
<div class="oh" style="left:137.5px;letter-spacing:-0.9px">&minus;0.56</div>
<div class="oh" style="left:205px;letter-spacing:-1.3px">(&minus;0.54%)</div>
<div class="tt" style="left:1382.57px;transform:scaleX(0.893)">З</div><div class="tt" style="left:1416.64px;transform:scaleX(0.955)">А</div><div class="tt" style="left:1536.43px;transform:scaleX(0.941)">Г</div><div class="tt" style="left:1571.44px;transform:scaleX(0.860)">О</div><div class="tt" style="left:1617.00px;transform:scaleX(1.011)">Д</div><div class="tt" style="left:1683.85px;transform:scaleX(1.062)">Т</div><div class="tt" style="left:1726.82px;transform:scaleX(0.869)">О</div><div class="tt" style="left:1772.09px;transform:scaleX(0.812)">Р</div><div class="tt" style="left:1806.42px;transform:scaleX(0.898)">Г</div><div class="tt" style="left:1844.30px;transform:scaleX(0.833)">О</div><div class="tt" style="left:1888.65px;transform:scaleX(0.845)">В</div>
<div class="em" style="left:148.6px"><span>E</span></div>
<div class="em" style="left:1721.2px"><span>E</span></div>
<div class="ml" style="right:1900.5px">Feb</div><div class="ml" style="left:167.0px;width:80px;margin-left:-40px;text-align:center">Mar</div><div class="ml" style="left:363.2px;width:80px;margin-left:-40px;text-align:center">Apr</div><div class="ml" style="left:600.8px;width:80px;margin-left:-40px;text-align:center">May</div><div class="ml" style="left:829.8px;width:80px;margin-left:-40px;text-align:center">Jun</div><div class="ml" style="left:1059.5px;width:80px;margin-left:-40px;text-align:center">Jul</div><div class="ml" style="left:1322.5px;width:80px;margin-left:-40px;text-align:center">Aug</div><div class="ml" style="left:1551.8px;width:80px;margin-left:-40px;text-align:center">Sep</div><div class="ml" style="left:1789.8px;width:80px;margin-left:-40px;text-align:center">Oct</div>
</div></div>
</body></html>
